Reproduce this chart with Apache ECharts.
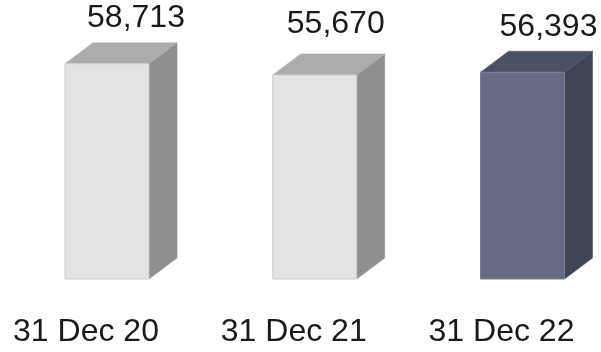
<!DOCTYPE html>
<html>
<head>
<meta charset="utf-8">
<script src="https://cdn.jsdelivr.net/npm/echarts@6/dist/echarts.min.js"></script>
<style>html,body{margin:0;padding:0;background:#fff}#c{width:601px;height:352px}</style>
</head>
<body>
<div id="c"></div>
<script>
const categories = ['31 Dec 20', '31 Dec 21', '31 Dec 22'];
const values = [58713, 55670, 56393];

const lightFaces = { front: '#e2e4e3', side: '#8f8f8f', top: '#acacac', stroke: '#c9cbca' };
const darkFaces = { front: '#666b83', side: '#404457', top: '#4c5066', stroke: '#7a7f95' };
const highlightIndex = 2;
const HALF_W = 42, DX = 28, DY = 21;
// value-label nudges (style only), relative to the front-face top centre
const labelNudge = [[29, -46], [21, -51], [26, -45]];

const chart = echarts.init(document.getElementById('c'), null, { renderer: 'canvas' });
chart.setOption({
  animation: false,
  backgroundColor: '#ffffff',
  grid: { left: 107, right: 78.5, top: 59, bottom: 73 },
  xAxis: {
    type: 'category',
    data: categories,
    boundaryGap: false,
    axisLine: { show: false },
    axisTick: { show: false },
    axisLabel: {
      fontFamily: 'Liberation Sans, Arial, sans-serif',
      fontSize: 32,
      color: '#1a1a1a',
      verticalAlign: 'middle',
      margin: 53,
      padding: [0, 42, 0, 0]
    }
  },
  yAxis: { type: 'value', min: 0, max: 60000, show: false },
  series: [{
    type: 'custom',
    data: values.map((v, i) => [i, v]),
    renderItem: function (params, api) {
      const p = api.coord([api.value(0), api.value(1)]);
      const b = api.coord([api.value(0), 0]);
      const cx = p[0], top = p[1], bottom = b[1];
      const f = params.dataIndex === highlightIndex ? darkFaces : lightFaces;
      const n = labelNudge[params.dataIndex];
      const l = cx - HALF_W, r = cx + HALF_W;
      return {
        type: 'group',
        children: [
          { type: 'polygon', shape: { points: [[r, top], [r + DX, top - DY], [r + DX, bottom - DY], [r, bottom]] },
            style: { fill: f.side, stroke: f.side, lineWidth: 0.5 } },
          { type: 'polygon', shape: { points: [[l, top], [l + DX, top - DY], [r + DX, top - DY], [r, top]] },
            style: { fill: f.top, stroke: f.top, lineWidth: 0.5 } },
          { type: 'rect', shape: { x: l, y: top, width: r - l, height: bottom - top },
            style: { fill: f.front, stroke: f.stroke, lineWidth: 1 } },
          { type: 'text', x: cx + n[0], y: top + n[1],
            style: { text: api.value(1).toLocaleString('en-US'), fill: '#1a1a1a',
              font: '32px "Liberation Sans", Arial, sans-serif', align: 'center', verticalAlign: 'middle' } }
        ]
      };
    }
  }]
});
</script>
</body>
</html>
